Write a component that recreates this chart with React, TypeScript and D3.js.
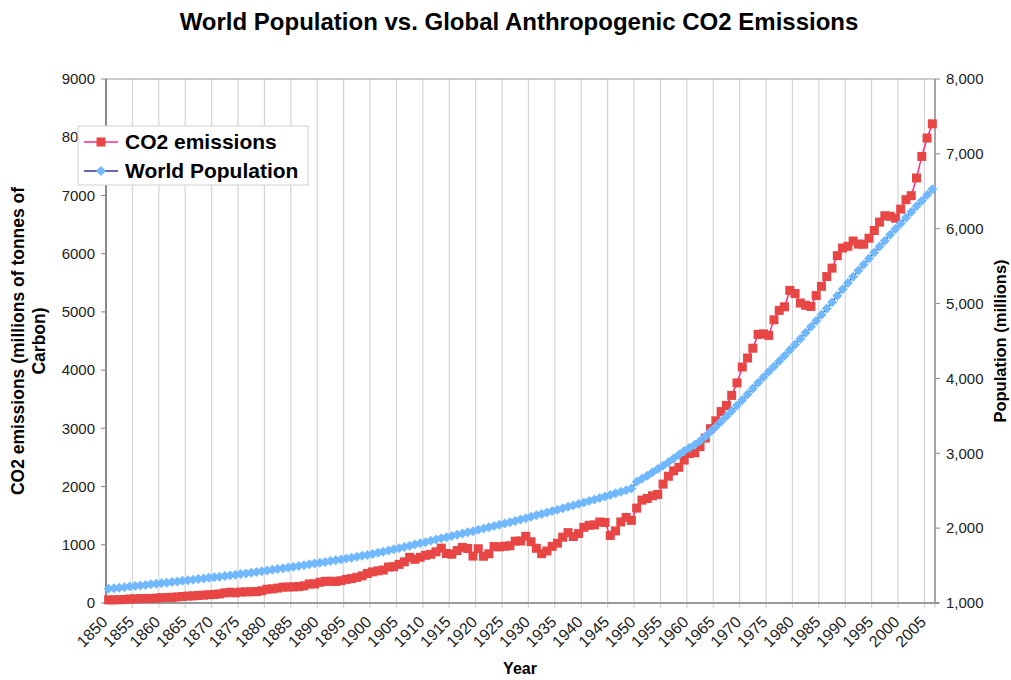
import { useEffect } from 'react';
import * as d3 from 'd3';

const W = 1011;
const H = 680;

const years: number[] = d3.range(1850, 2007);

// millions of tonnes of carbon, 1850..2006
const co2: number[] = [
  54, 54, 57, 59, 69, 71, 76, 77, 78, 83,
  91, 95, 97, 104, 112, 119, 122, 130, 135, 142,
  147, 156, 173, 184, 174, 188, 191, 194, 196, 210,
  236, 243, 256, 272, 275, 277, 281, 295, 327, 327,
  356, 372, 374, 370, 383, 406, 419, 440, 465, 507,
  534, 552, 566, 617, 624, 663, 707, 784, 750, 785,
  819, 836, 879, 943, 850, 838, 901, 955, 936, 806,
  932, 803, 845, 970, 963, 975, 983, 1062, 1065, 1145,
  1053, 940, 847, 893, 973, 1027, 1130, 1209, 1142, 1192,
  1299, 1334, 1342, 1391, 1383, 1160, 1238, 1392, 1469, 1419,
  1630, 1767, 1795, 1841, 1865, 2042, 2177, 2270, 2330, 2454,
  2569, 2580, 2686, 2833, 2995, 3130, 3288, 3393, 3566, 3780,
  4053, 4208, 4376, 4614, 4623, 4596, 4864, 5026, 5087, 5369,
  5315, 5152, 5113, 5094, 5280, 5439, 5607, 5752, 5965, 6097,
  6127, 6217, 6164, 6162, 6266, 6398, 6542, 6651, 6643, 6610,
  6765, 6927, 6996, 7300, 7670, 7985, 8230,
];

// world population, millions, 1850..2006
const population: number[] = [
  1190, 1197, 1205, 1212, 1220, 1227, 1235, 1242, 1250, 1257,
  1265, 1272, 1280, 1288, 1296, 1304, 1312, 1320, 1328, 1336,
  1344, 1352, 1360, 1368, 1376, 1386, 1395, 1405, 1414, 1424,
  1434, 1444, 1454, 1464, 1474, 1484, 1495, 1505, 1516, 1527,
  1538, 1549, 1560, 1571, 1582, 1594, 1606, 1618, 1630, 1642,
  1656, 1671, 1686, 1701, 1717, 1733, 1749, 1765, 1781, 1797,
  1813, 1830, 1847, 1864, 1880, 1896, 1912, 1928, 1944, 1960,
  1977, 1994, 2011, 2028, 2045, 2062, 2079, 2097, 2115, 2133,
  2152, 2171, 2190, 2209, 2228, 2247, 2266, 2285, 2304, 2324,
  2344, 2364, 2384, 2404, 2424, 2444, 2465, 2486, 2507, 2528,
  2620, 2660, 2700, 2745, 2790, 2835, 2880, 2930, 2980, 3030,
  3075, 3115, 3165, 3225, 3290, 3355, 3425, 3495, 3565, 3637,
  3712, 3790, 3867, 3942, 4017, 4089, 4160, 4232, 4304, 4379,
  4454, 4530, 4610, 4690, 4770, 4851, 4933, 5018, 5105, 5190,
  5275, 5359, 5441, 5523, 5603, 5682, 5761, 5840, 5918, 5995,
  6071, 6147, 6223, 6299, 6375, 6451, 6528,
];

const co2Ticks: number[] = d3.range(0, 9001, 1000);
const popTicks: number[] = d3.range(1000, 8001, 1000);
const yearTicks: number[] = years.filter((y) => y % 5 === 0);

const FONT = '"Liberation Sans", Arial, Helvetica, sans-serif';

const margin = { top: 79, right: 76, bottom: 77, left: 106 };

export default function App() {
  useEffect(() => {
    document.body.style.margin = '0';
  }, []);

  const x = d3
    .scaleBand<number>()
    .domain(years)
    .range([margin.left, W - margin.right])
    .padding(0);
  const cx = (yr: number) => (x(yr) ?? 0) + x.bandwidth() / 2;

  const yL = d3.scaleLinear().domain([0, 9000]).range([H - margin.bottom, margin.top]);
  const yR = d3.scaleLinear().domain([1000, 8000]).range([H - margin.bottom, margin.top]);

  const x0 = margin.left;
  const x1 = W - margin.right;
  const yTop = margin.top;
  const yBot = H - margin.bottom;

  const co2Line = d3
    .line<number>()
    .x((_, i) => cx(years[i]))
    .y((d) => yL(d))(co2) ?? '';
  const popLine = d3
    .line<number>()
    .x((_, i) => cx(years[i]))
    .y((d) => yR(d))(population) ?? '';

  const sq = 9;
  const dm = 5;
  const diamond = (px: number, py: number) =>
    `M${px},${py - dm}L${px + dm},${py}L${px},${py + dm}L${px - dm},${py}Z`;

  return (
    <svg width={W} height={H} style={{ display: 'block', background: '#fff' }} fontFamily={FONT}>
      <text x={519} y={30} textAnchor="middle" fontSize={24} fontWeight="bold" fill="#000">
        World Population vs. Global Anthropogenic CO2 Emissions
      </text>

      {/* vertical gridlines */}
      {yearTicks
        .filter((yr) => yr !== 1850)
        .map((yr) => (
          <line key={'g' + yr} x1={x(yr)} x2={x(yr)} y1={yTop} y2={yBot + 5} stroke="#d4d4d4" strokeWidth={1.2} />
        ))}
      <line x1={x1} x2={x1} y1={yBot} y2={yBot + 5} stroke="#d4d4d4" strokeWidth={1.2} />

      {/* frame */}
      <line x1={x0} x2={x1} y1={yTop} y2={yTop} stroke="#999" strokeWidth={1} />
      <line x1={x1} x2={x1} y1={yTop} y2={yBot} stroke="#888" strokeWidth={1.5} />
      <line x1={x0} x2={x0} y1={yTop} y2={yBot} stroke="#888" strokeWidth={2} />
      <line x1={x0} x2={x1 + 4} y1={yBot} y2={yBot} stroke="#999" strokeWidth={2} />

      {/* left axis */}
      {co2Ticks.map((t) => (
        <g key={'l' + t}>
          <line x1={x0 - 5} x2={x0} y1={yL(t)} y2={yL(t)} stroke="#888" />
          <text x={x0 - 11} y={yL(t)} dy="0.35em" textAnchor="end" fontSize={15} fill="#222">
            {t}
          </text>
        </g>
      ))}

      {/* right axis */}
      {popTicks.map((t) => (
        <g key={'r' + t}>
          <line x1={x1} x2={x1 + 5} y1={yR(t)} y2={yR(t)} stroke="#888" />
          <text x={x1 + 11} y={yR(t)} dy="0.35em" textAnchor="start" fontSize={15} fill="#222">
            {d3.format(',')(t)}
          </text>
        </g>
      ))}

      {/* bottom axis labels */}
      {yearTicks.map((yr) => (
        <text
          key={'x' + yr}
          transform={`translate(${cx(yr) - 4},${yBot + 16}) rotate(-45)`}
          textAnchor="end"
          dy="0.35em"
          fontSize={16}
          fill="#222"
        >
          {yr}
        </text>
      ))}

      {/* axis titles */}
      <text x={520} y={674} textAnchor="middle" fontSize={16} fontWeight="bold">
        Year
      </text>
      <text transform={`translate(24,${(yTop + yBot) / 2}) rotate(-90)`} textAnchor="middle" fontSize={17.5} fontWeight="bold">
        <tspan x={0} dy={0}>CO2 emissions (millions of tonnes of</tspan>
        <tspan x={0} dy={21}>Carbon)</tspan>
      </text>
      <text transform={`translate(1006,${(yTop + yBot) / 2}) rotate(-90)`} textAnchor="middle" fontSize={16.5} fontWeight="bold">
        Population (millions)
      </text>

      {/* CO2 series */}
      <path d={co2Line} fill="none" stroke="#ff2a8a" strokeWidth={1.5} />
      {co2.map((v, i) => (
        <rect key={'c' + i} x={cx(years[i]) - sq / 2} y={yL(v) - sq / 2} width={sq} height={sq} fill="#e84545" />
      ))}

      {/* population series */}
      <path d={popLine} fill="none" stroke="#333399" strokeWidth={1.2} />
      {population.map((v, i) => (
        <path key={'p' + i} d={diamond(cx(years[i]), yR(v))} fill="#70b8ff" />
      ))}

      {/* legend */}
      <rect x={78} y={126} width={230} height={59} fill="#fff" stroke="#cfcfcf" strokeWidth={1} />
      <line x1={84} x2={118} y1={142} y2={142} stroke="#ff2a8a" strokeWidth={1.5} />
      <rect x={101 - sq / 2} y={142 - sq / 2} width={sq} height={sq} fill="#e84545" />
      <text x={125} y={142} dy="0.35em" fontSize={21} fontWeight="bold">
        CO2 emissions
      </text>
      <line x1={84} x2={118} y1={171} y2={171} stroke="#333399" strokeWidth={1.5} />
      <path d={diamond(101, 171)} fill="#70b8ff" />
      <text x={125} y={171} dy="0.35em" fontSize={21} fontWeight="bold">
        World Population
      </text>
    </svg>
  );
}
